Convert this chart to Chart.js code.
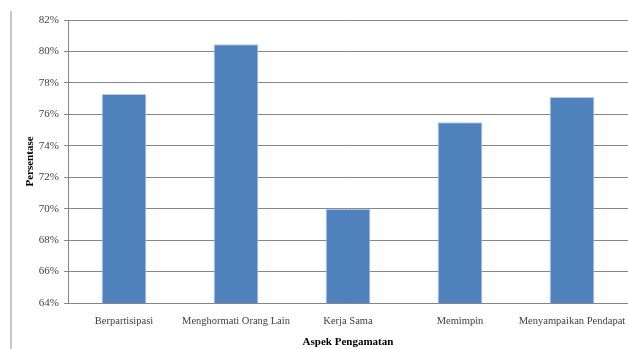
<!DOCTYPE html>
<html>
<head>
<meta charset="utf-8">
<script src="https://cdn.jsdelivr.net/npm/chart.js@4"></script>
<style>
    html, body { margin: 0; padding: 0; background: #fff; }
    #wrap { position: relative; width: 628px; height: 349px; }
    #edge { position: absolute; left: 10px; top: 11px; width: 2px; height: 338px; background: #c8c8c8; }
</style>
</head>
<body>
<div id="wrap">
    <div id="edge"></div>
    <canvas id="graph_one" width="628" height="349"></canvas>
</div>
<script>
const categories = ['Berpartisipasi', 'Menghormati Orang Lain', 'Kerja Sama', 'Memimpin', 'Menyampaikan Pendapat'];
const persentase = [77.3, 80.45, 70.0, 75.5, 77.1];
const yMin = 64;
const yMax = 82;
const yStep = 2;

const fontName = '"Liberation Serif", "DejaVu Serif", serif';
const canvas1 = document.getElementById('graph_one');

new Chart(canvas1, {
    type: 'bar',
    data: {
        labels: categories,
        datasets: [
            {
                label: 'Persentase',
                data: persentase,
                backgroundColor: '#4F81BD',
                borderColor: '#B9CDE5',
                borderWidth: 1,
                barPercentage: 0.4,
                categoryPercentage: 1
            }
        ]
    },
    options: {
        responsive: false,
        animation: false,
        layout: {
            padding: { top: 20, right: 0, bottom: 0, left: 0 }
        },
        scales: {
            x: {
                grid: { display: false, drawTicks: false },
                border: { color: '#868686', width: 1 },
                ticks: {
                    color: '#404040',
                    font: { family: fontName, size: 10.5 },
                    padding: 12,
                    maxRotation: 0,
                    autoSkip: false
                },
                title: {
                    display: true,
                    text: 'Aspek Pengamatan',
                    color: '#000',
                    font: { family: fontName, size: 11, weight: 'bold' },
                    padding: { top: 0, bottom: 0 }
                },
                afterFit: (axis) => {
                    axis.height = 46;
                    axis.paddingLeft = 0;
                    axis.paddingRight = 0;
                }
            },
            y: {
                min: yMin,
                max: yMax,
                grid: { color: '#868686', lineWidth: 1, tickLength: 4 },
                border: { color: '#868686', width: 1 },
                ticks: {
                    stepSize: yStep,
                    color: '#404040',
                    font: { family: fontName, size: 11 },
                    padding: 5,
                    callback: (v) => v + '%'
                },
                title: {
                    display: true,
                    text: 'Persentase',
                    color: '#000',
                    font: { family: fontName, size: 11, weight: 'bold' },
                    padding: { top: 24, bottom: 6 }
                },
                afterFit: (axis) => { axis.width = 68; }
            }
        },
        plugins: {
            legend: { display: false },
            tooltip: { enabled: false }
        }
    }
});
</script>
</body>
</html>
